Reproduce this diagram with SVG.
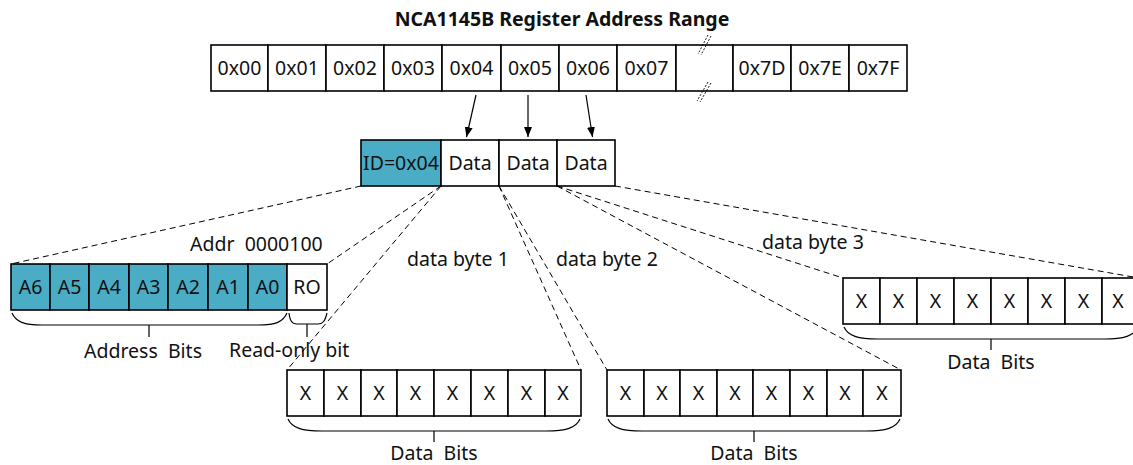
<svg xmlns="http://www.w3.org/2000/svg" width="1133" height="465" viewBox="0 0 1133 465">
<style>
text{font-family:"Noto Sans","DejaVu Sans",sans-serif;font-size:19.5px;fill:#111}
.c{text-anchor:middle}
.t{font-weight:bold;font-size:19.5px}
.box{fill:#fff;stroke:#000;stroke-width:1.6}
.teal{fill:#4BACC6;stroke:#000;stroke-width:1.6}
.dash{fill:none;stroke:#000;stroke-width:1;stroke-dasharray:6 4}
.br{fill:none;stroke:#000;stroke-width:1.2}
.arr{fill:none;stroke:#000;stroke-width:1.2;marker-end:url(#ah)}
.brk{fill:none;stroke:#000;stroke-width:0.9;stroke-dasharray:2 1.5}
.pre{white-space:pre}
</style>
<defs>
<marker id="ah" viewBox="0 0 10 10" refX="10" refY="5" markerWidth="10" markerHeight="10" markerUnits="userSpaceOnUse" orient="auto">
<path d="M0,1 L10,5 L0,9 Z" fill="#000"/>
</marker>
</defs>

<text class="c t" x="562" y="26">NCA1145B Register Address Range</text>

<g id="register-range">
<rect class="box" x="211" y="45" width="57" height="46"/><text class="c" x="239.5" y="75">0x00</text>
<rect class="box" x="268" y="45" width="58" height="46"/><text class="c" x="297" y="75">0x01</text>
<rect class="box" x="326" y="45" width="58" height="46"/><text class="c" x="355" y="75">0x02</text>
<rect class="box" x="384" y="45" width="58" height="46"/><text class="c" x="413" y="75">0x03</text>
<rect class="box" x="442" y="45" width="59" height="46"/><text class="c" x="471.5" y="75">0x04</text>
<rect class="box" x="501" y="45" width="58" height="46"/><text class="c" x="530" y="75">0x05</text>
<rect class="box" x="559" y="45" width="58" height="46"/><text class="c" x="588" y="75">0x06</text>
<rect class="box" x="617" y="45" width="59" height="46"/><text class="c" x="646.5" y="75">0x07</text>
<rect class="box" x="676" y="45" width="57" height="46"/>
<rect class="box" x="733" y="45" width="58" height="46"/><text class="c" x="762" y="75">0x7D</text>
<rect class="box" x="791" y="45" width="58" height="46"/><text class="c" x="820" y="75">0x7E</text>
<rect class="box" x="849" y="45" width="58" height="46"/><text class="c" x="878" y="75">0x7F</text>
<path class="brk" d="M708,35 L698,54 M711,36 L701,55 M708,82 L697,101 M711,83 L700,102"/>
</g>

<g id="id-row">
<rect class="teal" x="361" y="140" width="80" height="46"/><text class="c" x="401" y="170">ID=0x04</text>
<rect class="box" x="441" y="140" width="58" height="46"/><text class="c" x="470" y="170">Data</text>
<rect class="box" x="499" y="140" width="58" height="46"/><text class="c" x="528" y="170">Data</text>
<rect class="box" x="557" y="140" width="58" height="46"/><text class="c" x="586" y="170">Data</text>
</g>

<g id="address-byte">
<rect class="teal" x="11" y="264" width="39" height="46"/><text class="c" x="30.5" y="294">A6</text>
<rect class="teal" x="50" y="264" width="39" height="46"/><text class="c" x="69.5" y="294">A5</text>
<rect class="teal" x="89" y="264" width="40" height="46"/><text class="c" x="109" y="294">A4</text>
<rect class="teal" x="129" y="264" width="39" height="46"/><text class="c" x="148.5" y="294">A3</text>
<rect class="teal" x="168" y="264" width="40" height="46"/><text class="c" x="188" y="294">A2</text>
<rect class="teal" x="208" y="264" width="40" height="46"/><text class="c" x="228" y="294">A1</text>
<rect class="teal" x="248" y="264" width="39" height="46"/><text class="c" x="267.5" y="294">A0</text>
<rect class="box" x="287" y="264" width="40" height="46"/><text class="c" x="307" y="294">RO</text>
<text class="pre" x="190" y="251">Addr  0000100</text>
<path class="br" d="M12,313 C16,322 24,325 42,325 H258 C276,325 283,322 287,313 M149,325 V337"/>
<path class="br" d="M289,313 C290,321 292,324 297,324 H318 C323,324 325,321 327,313 M307,324 V337"/>
<text class="c pre" x="143" y="358">Address  Bits</text>
<text x="229" y="357">Read-only bit</text>
</g>

<g id="data-byte-1">
<rect class="box" x="287" y="370" width="37" height="46"/><text class="c" x="305.5" y="400">X</text>
<rect class="box" x="324" y="370" width="37" height="46"/><text class="c" x="342.5" y="400">X</text>
<rect class="box" x="361" y="370" width="36" height="46"/><text class="c" x="379" y="400">X</text>
<rect class="box" x="397" y="370" width="37" height="46"/><text class="c" x="415.5" y="400">X</text>
<rect class="box" x="434" y="370" width="37" height="46"/><text class="c" x="452.5" y="400">X</text>
<rect class="box" x="471" y="370" width="37" height="46"/><text class="c" x="489.5" y="400">X</text>
<rect class="box" x="508" y="370" width="37" height="46"/><text class="c" x="526.5" y="400">X</text>
<rect class="box" x="545" y="370" width="36" height="46"/><text class="c" x="563" y="400">X</text>
<path class="br" d="M288,419 C292,428 302,431 322,431 H546 C566,431 576,428 580,419 M434,431 V442"/>
<text class="c pre" x="434" y="460">Data  Bits</text>
<text x="407" y="266">data byte 1</text>
</g>

<g id="data-byte-2">
<rect class="box" x="607" y="370" width="37" height="46"/><text class="c" x="625.5" y="400">X</text>
<rect class="box" x="644" y="370" width="36" height="46"/><text class="c" x="662" y="400">X</text>
<rect class="box" x="680" y="370" width="37" height="46"/><text class="c" x="698.5" y="400">X</text>
<rect class="box" x="717" y="370" width="36" height="46"/><text class="c" x="735" y="400">X</text>
<rect class="box" x="753" y="370" width="37" height="46"/><text class="c" x="771.5" y="400">X</text>
<rect class="box" x="790" y="370" width="37" height="46"/><text class="c" x="808.5" y="400">X</text>
<rect class="box" x="827" y="370" width="36" height="46"/><text class="c" x="845" y="400">X</text>
<rect class="box" x="863" y="370" width="38" height="46"/><text class="c" x="882" y="400">X</text>
<path class="br" d="M608,419 C612,428 622,431 642,431 H866 C886,431 896,428 900,419 M754,431 V442"/>
<text class="c pre" x="754" y="460">Data  Bits</text>
<text x="556" y="266">data byte 2</text>
</g>

<g id="data-byte-3">
<rect class="box" x="843" y="278" width="37" height="46"/><text class="c" x="861.5" y="308">X</text>
<rect class="box" x="880" y="278" width="37" height="46"/><text class="c" x="898.5" y="308">X</text>
<rect class="box" x="917" y="278" width="37" height="46"/><text class="c" x="935.5" y="308">X</text>
<rect class="box" x="954" y="278" width="37" height="46"/><text class="c" x="972.5" y="308">X</text>
<rect class="box" x="991" y="278" width="37" height="46"/><text class="c" x="1009.5" y="308">X</text>
<rect class="box" x="1028" y="278" width="37" height="46"/><text class="c" x="1046.5" y="308">X</text>
<rect class="box" x="1065" y="278" width="37" height="46"/><text class="c" x="1083.5" y="308">X</text>
<rect class="box" x="1102" y="278" width="37" height="46"/><text class="c" x="1118" y="308">X</text>
<path class="br" d="M844,327 C848,336 858,339 878,339 H1104 C1124,339 1134,336 1138,327 M991,339 V350"/>
<text class="c pre" x="991" y="369">Data  Bits</text>
<text x="762" y="249">data byte 3</text>
</g>

<g id="connectors">
<path class="arr" d="M476,95 L466.5,137"/>
<path class="arr" d="M528,95 L528,137"/>
<path class="arr" d="M586,95 L592.5,137"/>
<path class="dash" d="M361,186 L11,264"/>
<path class="dash" d="M441,186 L327,264"/>
<path class="dash" d="M441,186 L287,370"/>
<path class="dash" d="M499,186 L581,370"/>
<path class="dash" d="M499,186 L607,370"/>
<path class="dash" d="M557,186 L901,370"/>
<path class="dash" d="M557,186 L843,278"/>
<path class="dash" d="M615,186 L1139,278"/>
</g>
</svg>
